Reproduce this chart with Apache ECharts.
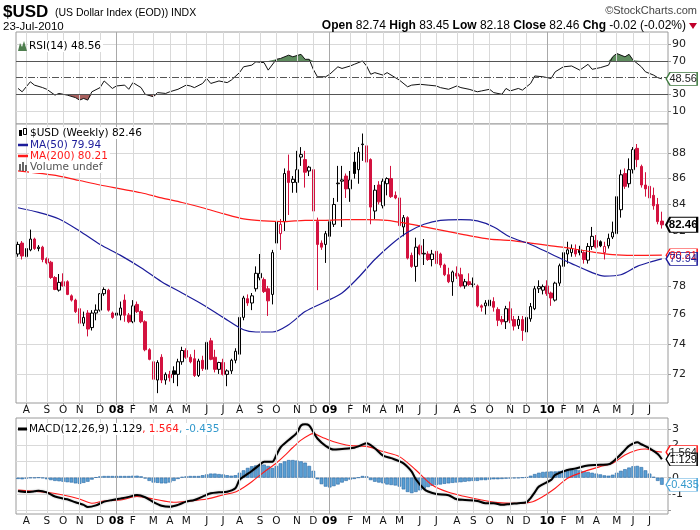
<!DOCTYPE html>
<html>
<head>
<meta charset="utf-8">
<title>$USD Weekly</title>
<script src="https://cdn.jsdelivr.net/npm/echarts@6/dist/echarts.min.js"></script>
<style>
html,body{margin:0;padding:0;background:#fff;}
#chart{width:700px;height:530px;}
</style>
</head>
<body>
<div id="chart"></div>
<script>
// ================= DATA =================
const firstWeekEnding = '2007-07-20';
// index of the first weekly bar of each month, and its axis label
const monthStartIdx = [2,7,11,15,20,24,28,33,37,41,46,50,54,59,63,68,72,76,81,85,89,93,98,102,107,111,115,120,124,129,133,137,141,146,150,154];
const monthLabels = ['A','S','O','N','D','08','F','M','A','M','J','J','A','S','O','N','D','09','F','M','A','M','J','J','A','S','O','N','D','10','F','M','A','M','J','J'];

const opens = [80.30,81.10,80.10,80.60,81.40,80.70,80.80,79.95,79.70,78.60,
77.70,78.30,78.30,77.30,77.00,76.40,75.40,76.10,75.10,76.10,
76.30,77.45,77.70,76.10,75.95,75.95,77.00,75.95,75.50,76.70,
76.20,75.50,73.60,72.80,71.60,73.10,71.60,71.97,72.20,71.97,
72.80,73.55,73.10,73.00,71.90,72.90,72.30,74.20,73.10,72.30,
72.75,71.97,72.20,72.90,73.30,75.80,77.10,76.80,77.80,78.57,
78.45,77.80,77.40,81.10,81.80,82.70,86.60,85.70,85.70,87.70,
87.50,86.60,86.70,82.70,81.10,81.00,81.60,82.50,85.60,85.80,
86.20,85.20,87.30,86.70,88.70,88.60,87.50,83.50,85.50,83.90,
85.60,86.00,84.70,84.50,82.30,83.00,80.20,79.40,80.90,80.30,
80.30,79.90,80.50,80.30,79.50,78.80,78.30,78.90,78.80,78.00,
78.30,78.10,78.00,76.60,76.60,76.60,76.90,76.35,75.65,75.50,
76.40,75.65,75.25,75.65,74.80,75.70,76.40,77.80,77.70,78.00,
77.50,77.00,78.20,79.40,80.30,80.40,80.60,80.60,80.40,79.85,
80.85,81.30,81.20,80.40,80.90,81.55,81.80,83.60,86.40,85.60,
86.70,88.40,86.96,85.50,85.40,84.70,84.00,82.74];
const highs = [81.20,81.25,80.90,82.10,81.50,80.95,80.90,80.05,79.80,78.70,
78.85,78.90,78.40,77.40,77.10,76.50,76.20,76.30,76.30,76.70,
77.50,77.90,77.80,76.20,76.20,76.90,77.40,76.10,77.00,76.90,
76.30,75.60,73.70,73.00,72.90,73.30,72.10,72.20,72.50,73.00,
73.80,73.70,73.30,73.60,73.00,73.20,74.30,74.40,73.60,72.80,
73.00,72.30,73.00,73.70,75.90,77.30,77.40,77.50,79.40,80.30,
78.60,78.00,80.60,83.20,82.90,86.80,87.90,86.20,88.20,88.50,
88.20,87.00,87.20,83.00,81.30,82.00,82.90,84.50,87.00,87.00,
86.40,86.60,88.10,88.50,89.60,89.40,87.60,85.50,85.80,86.00,
86.10,87.00,85.00,84.60,83.20,83.10,80.40,81.50,81.00,81.40,
80.50,80.60,80.70,80.40,79.60,79.30,79.10,79.40,79.30,78.50,
78.90,78.60,78.10,76.70,77.00,77.50,77.20,76.50,75.90,76.60,
76.90,75.90,75.90,75.90,76.00,76.80,78.00,78.40,78.10,78.40,
77.60,78.30,79.60,80.50,81.20,81.00,81.00,80.90,80.50,81.10,
82.30,81.70,81.30,81.20,81.80,82.70,84.90,86.70,86.80,87.60,
88.50,88.75,87.10,86.50,85.60,85.30,84.50,83.45];
const lows = [80.10,79.90,79.90,80.50,80.60,80.50,79.70,79.55,78.50,77.70,
77.60,77.95,77.35,76.90,76.10,74.90,75.20,74.50,74.90,75.60,
76.20,77.30,76.20,75.70,75.70,75.60,75.50,75.40,75.40,76.10,
75.40,73.50,72.90,71.50,70.75,71.40,71.30,71.50,71.40,71.20,
72.60,73.00,72.70,71.80,71.80,72.20,72.10,72.90,72.10,72.00,
71.90,71.20,72.00,72.70,73.20,75.60,76.60,76.30,77.60,78.40,
77.50,75.90,76.70,80.20,80.60,82.00,83.20,84.90,84.90,87.00,
85.30,86.20,83.40,77.70,80.60,79.65,80.80,82.30,84.20,82.30,
84.50,84.20,86.00,85.60,87.40,87.20,82.50,82.90,84.00,83.70,
84.70,84.50,84.40,82.30,81.60,79.90,79.30,78.30,80.20,79.50,
79.80,79.40,79.50,79.30,78.70,78.20,77.30,78.50,77.90,77.80,
78.00,77.90,76.50,76.20,76.00,76.30,76.20,75.20,75.30,75.00,
75.40,74.90,75.00,74.20,74.30,75.50,76.30,77.50,77.40,77.30,
76.60,76.90,78.00,79.20,79.60,80.10,80.10,80.20,79.60,79.60,
80.60,80.70,80.80,79.90,80.70,81.40,81.60,83.00,85.20,85.30,
86.40,86.90,85.30,84.60,84.30,83.60,82.50,82.18];
const closes = [81.00,80.15,80.70,81.40,80.70,80.80,79.90,79.65,78.60,77.75,
78.25,78.00,77.40,77.00,76.20,75.40,75.80,75.00,76.10,76.30,
77.45,77.75,76.30,75.80,76.10,76.45,75.95,75.50,76.60,76.20,
75.50,73.60,72.96,71.65,72.75,71.60,71.97,71.75,71.97,72.80,
73.55,73.10,72.80,71.90,72.85,72.35,74.10,72.96,72.30,72.75,
71.97,72.20,72.90,73.50,75.80,77.15,76.80,77.30,78.90,78.90,
77.60,76.95,80.40,82.70,82.50,86.40,85.70,85.95,86.70,87.90,
86.50,86.90,83.50,81.00,80.80,81.80,82.70,84.00,85.65,85.90,
85.20,85.90,86.40,88.10,88.75,87.30,83.80,85.10,84.20,85.80,
86.00,84.60,84.50,82.40,83.00,80.00,79.40,80.80,80.30,80.35,
79.90,80.30,79.60,79.50,78.80,78.30,79.00,78.70,78.00,78.30,
78.10,78.15,76.60,76.50,76.80,77.00,76.50,75.60,75.50,76.40,
75.60,75.20,75.65,74.90,75.80,76.55,77.80,77.95,77.95,77.45,
77.15,78.20,79.45,80.40,80.60,80.70,80.30,80.40,79.90,80.85,
81.60,80.80,80.90,80.85,81.45,81.90,84.60,86.30,85.40,86.70,
88.30,87.50,85.50,85.20,84.50,83.90,82.70,82.46];

// [week index, value] readings
const ma50 = [[0,83.75],[5,83.4],[10,82.9],[15,82.0],[20,81.0],[25,80.2],[30,79.3],[35,78.3],[40,77.5],[45,76.7],[50,75.8],[55,74.95],[58,74.8],[62,74.8],[66,75.3],[70,76.2],[75,76.9],[79,77.5],[83,78.6],[87,79.9],[91,81.0],[95,81.9],[99,82.5],[103,82.8],[108,82.85],[112,82.75],[116,82.3],[120,81.55],[125,81.0],[130,80.3],[135,79.6],[140,78.95],[143,78.7],[147,78.8],[151,79.4],[154,79.7],[157,79.94]];
const ma200 = [[0,86.6],[10,86.2],[15,85.85],[20,85.5],[25,85.2],[30,84.9],[35,84.5],[40,84.15],[45,83.75],[50,83.3],[55,82.9],[60,82.75],[65,82.7],[70,82.8],[75,82.8],[80,82.85],[85,82.85],[90,82.8],[95,82.55],[100,82.25],[105,81.95],[110,81.65],[115,81.4],[120,81.3],[125,81.1],[130,80.9],[135,80.7],[140,80.45],[145,80.25],[150,80.2],[157,80.21]];
const rsi14 = [[0,37],[1,33],[3,45],[4,41],[6,38],[7,36],[9,29],[10,31],[12,29],[14,26],[15,23],[16,25],[17,23],[18,33],[20,38],[21,46],[23,37],[24,40],[26,41],[27,36],[28,44],[30,38],[31,30],[33,27],[34,32],[36,31],[37,33],[39,36],[41,41],[42,40],[43,38],[45,43],[46,49],[47,43],[49,46],[51,44],[52,47],[54,56],[55,63],[57,65],[58,69],[60,68],[61,59],[63,72],[64,73],[66,77],[67,75],[69,78],[70,72],[71,72],[72,60],[73,51],[75,51],[76,54],[78,63],[79,61],[81,64],[82,66],[84,70],[85,64],[86,54],[87,56],[89,53],[90,56],[92,50],[93,47],[95,39],[96,41],[98,42],[100,41],[102,40],[103,38],[105,36],[107,40],[108,38],[110,36],[112,33],[113,34],[115,36],[116,32],[118,30],[119,37],[120,34],[122,37],[123,35],[125,43],[126,52],[128,51],[130,49],[131,57],[133,63],[135,64],[137,59],[139,66],[140,60],[142,62],[144,65],[145,75],[146,79],[148,75],[149,78],[150,71],[152,63],[153,57],[155,53],[156,50],[157,48.56]];
const macdLine = [[0,-0.82],[2,-0.88],[4,-0.84],[5,-0.8],[7,-0.9],[9,-1.16],[12,-1.33],[14,-1.51],[16,-1.67],[17,-1.8],[19,-1.7],[21,-1.47],[23,-1.37],[25,-1.28],[27,-1.18],[29,-1.06],[31,-1.2],[33,-1.5],[35,-1.72],[37,-1.78],[39,-1.67],[41,-1.47],[43,-1.37],[45,-1.16],[47,-0.96],[49,-0.9],[51,-0.86],[53,-0.65],[54,-0.14],[55,0.06],[57,0.41],[59,0.8],[60,0.98],[62,0.98],[63,1.39],[64,1.85],[66,2.31],[68,2.75],[69,3.2],[70,3.27],[71,3.2],[72,2.8],[73,2.4],[75,1.95],[77,1.72],[79,1.76],[81,1.8],[82,1.84],[83,1.92],[85,2.11],[87,1.8],[89,1.35],[91,1.2],[94,0.88],[96,0.37],[97,-0.1],[99,-0.7],[100,-0.85],[102,-1.0],[105,-1.08],[107,-1.33],[109,-1.37],[112,-1.43],[114,-1.57],[116,-1.57],[118,-1.67],[120,-1.61],[122,-1.57],[124,-1.51],[125,-1.25],[126,-0.9],[127,-0.55],[130,-0.14],[131,0.17],[134,0.47],[136,0.57],[139,0.74],[141,0.78],[144,0.82],[146,1.19],[148,1.7],[149,1.95],[151,2.17],[152,2.05],[154,1.8],[156,1.45],[157,1.129]];
const macdSignal = [[0,-0.76],[3,-0.82],[7,-0.9],[11,-1.06],[15,-1.31],[18,-1.57],[21,-1.43],[25,-1.37],[29,-1.16],[33,-1.31],[38,-1.51],[42,-1.43],[46,-1.31],[50,-1.06],[53,-0.88],[55,-0.6],[57,-0.25],[60,0.35],[63,0.9],[65,1.35],[67,1.85],[69,2.3],[71,2.62],[72,2.7],[74,2.5],[77,2.2],[80,2.0],[82,1.95],[85,1.92],[89,1.6],[93,1.29],[97,0.47],[101,-0.45],[105,-0.9],[109,-1.16],[113,-1.37],[117,-1.53],[121,-1.57],[125,-1.51],[128,-1.16],[131,-0.65],[134,-0.04],[138,0.37],[142,0.68],[145,0.88],[148,1.39],[151,1.7],[153,1.76],[155,1.64],[157,1.564]];
const macdHist = [-0.08,-0.10,-0.06,-0.02,-0.02,0.00,-0.03,-0.10,-0.15,-0.20,
-0.22,-0.25,-0.28,-0.30,-0.35,-0.38,-0.32,-0.25,-0.12,0.02,
0.08,0.10,0.10,0.10,0.10,0.10,0.10,0.10,0.12,0.12,
0.08,-0.05,-0.20,-0.30,-0.32,-0.35,-0.35,-0.30,-0.20,-0.08,
0.05,0.08,0.10,0.10,0.10,0.15,0.20,0.25,0.25,0.22,
0.20,0.15,0.12,0.15,0.30,0.45,0.60,0.70,0.75,0.80,
0.80,0.72,0.60,0.72,0.88,1.00,1.08,1.08,1.05,1.00,
0.92,0.72,0.42,-0.10,-0.40,-0.55,-0.60,-0.52,-0.42,-0.30,
-0.20,-0.12,-0.08,0.00,0.10,0.08,-0.15,-0.25,-0.30,-0.35,
-0.42,-0.45,-0.48,-0.55,-0.72,-0.88,-0.95,-0.88,-0.78,-0.68,
-0.58,-0.50,-0.45,-0.42,-0.38,-0.35,-0.32,-0.30,-0.28,-0.25,
-0.22,-0.20,-0.20,-0.15,-0.15,-0.12,-0.10,-0.10,-0.08,-0.06,
-0.05,-0.04,-0.03,0.00,0.03,0.12,0.22,0.30,0.35,0.37,
0.38,0.38,0.40,0.45,0.50,0.52,0.50,0.45,0.40,0.35,
0.30,0.25,0.20,0.14,0.12,0.18,0.30,0.42,0.52,0.62,
0.70,0.72,0.65,0.45,0.25,0.05,-0.20,-0.435];

const rsiTicks = [10, 30, 70, 90];
const rsiGuides = [30, 50, 70];
const priceTicks = [72, 74, 76, 78, 80, 82, 84, 86, 88];
const priceLabels = [72, 74, 76, 78, 82, 84, 86, 88];
const macdTicks = [-2, -1, 0, 1, 2, 3];
const macdLabels = [-1, 0, 2, 3];

// ================= BUILD =================
const FONT = "'DejaVu Sans', Verdana, sans-serif";
const ARIAL = "'Liberation Sans', Arial, sans-serif";
const RED = '#d3123f', BLACK = '#000000';
const GRIDC = '#d9d9d9', YEARC = '#a9a9a9', BORDER = '#9a9a9a';
const N = closes.length, LAST = N - 1;

// week-ending dates as categories (+1 empty slot at the right edge)
const cats = [];
{
  const t0 = Date.parse(firstWeekEnding + 'T00:00:00Z');
  for (let i = 0; i < N; i++) cats.push(new Date(t0 + i * 7 * 86400000).toISOString().slice(0, 10));
  cats.push(' ');
}
const monthSet = new Set(monthStartIdx);
const isYear = k => /\d/.test(monthLabels[k]);

const candleData = closes.map((c, i) => {
  const o = opens[i];
  const prev = i > 0 ? closes[i - 1] : o;
  const col = c < prev ? RED : BLACK;
  const fill = c > o ? '#ffffff' : col;
  return {
    value: [o, c, lows[i], highs[i]],
    itemStyle: { color: fill, color0: fill, borderColor: col, borderColor0: col, borderColorDoji: col }
  };
});

const L = 16, W = 652;
const grids = [
  { left: L, top: 32, width: W, height: 92 },
  { left: L, top: 124, width: W, height: 279 },
  { left: L, top: 418, width: W, height: 96 }
].map(g => Object.assign(g, { show: true, borderColor: BORDER, borderWidth: 1, backgroundColor: '#fff', containLabel: false, outerBoundsMode: 'none' }));

function makeX(gi, labels) {
  return {
    type: 'category', gridIndex: gi, data: cats, boundaryGap: true,
    axisLine: { show: false },
    axisTick: { show: labels, alignWithLabel: true, interval: i => monthSet.has(i), length: 2, lineStyle: { color: '#999' } },
    axisLabel: {
      show: labels, interval: i => monthSet.has(i), margin: 2,
      fontFamily: FONT, fontSize: 10.5, color: '#111',
      formatter: (v, i) => {
        const k = monthStartIdx.indexOf(i);
        if (k < 0) return '';
        return isYear(k) ? '{y|' + monthLabels[k] + '}' : monthLabels[k];
      },
      rich: { y: { fontFamily: FONT, fontWeight: 'bold', fontSize: 11, color: '#000' } }
    },
    splitLine: { show: false }
  };
}

const yLab = { fontFamily: FONT, fontSize: 11, color: '#222', margin: 4 };
function makeY(gi, type, min, max, ticks, labels) {
  const ax = {
    type, gridIndex: gi, position: 'right', min, max, scale: true,
    axisLine: { show: false },
    axisTick: { show: true, customValues: ticks, length: 3, lineStyle: { color: '#999' } },
    axisLabel: Object.assign({ customValues: labels }, yLab),
    splitLine: { show: true, lineStyle: { color: GRIDC, width: 1 } }
  };
  if (type === 'log') ax.logBase = 10;
  return ax;
}

function monthLines(gi, extra) {
  const data = monthStartIdx.map((m, k) => ({
    xAxis: cats[m],
    lineStyle: { color: isYear(k) ? YEARC : GRIDC, width: 1, type: 'solid' }
  })).concat(extra || []);
  return {
    type: 'line', xAxisIndex: gi, yAxisIndex: gi, data: [], z: 1, silent: true,
    markLine: { silent: true, animation: false, symbol: ['none', 'none'], label: { show: false }, data }
  };
}

function flag(x, y, text, border, textColor, bold) {
  const width = 31;
  return {
    silent: true, animation: false,
    symbol: 'path://M0,7 L5,0 L40,0 L40,14 L5,14 Z',
    symbolSize: [width, bold ? 15 : 13],
    symbolOffset: [4.3 + width / 2, 0],
    itemStyle: { color: '#ffffff', borderColor: border, borderWidth: bold ? 1.6 : 1 },
    label: {
      show: true, position: 'inside', offset: [1.5, 0.5], formatter: text,
      color: textColor, fontFamily: ARIAL, fontSize: bold ? 11.5 : 11, fontWeight: bold ? 'bold' : 'normal'
    },
    data: [{ coord: [x, y] }]
  };
}

const lastOf = arr => arr[arr.length - 1];
const rsiOver = rsi14.map(p => [p[0], Math.max(p[1], 70)]);
const rsiUnder = rsi14.map(p => [p[0], Math.min(p[1], 30)]);

const series = [
  // ---- RSI panel ----
  monthLines(0, [
    { yAxis: rsiGuides[0], lineStyle: { color: '#555', width: 1, type: 'solid' } },
    { yAxis: rsiGuides[1], lineStyle: { color: '#555', width: 1, type: [7, 2, 1, 2] } },
    { yAxis: rsiGuides[2], lineStyle: { color: '#555', width: 1, type: 'solid' } }
  ]),
  { type: 'line', xAxisIndex: 0, yAxisIndex: 0, data: rsiOver, symbol: 'none', silent: true, z: 2,
    lineStyle: { width: 0, opacity: 0 }, areaStyle: { origin: 70, color: '#5e8c5e', opacity: 1 } },
  { type: 'line', xAxisIndex: 0, yAxisIndex: 0, data: rsiUnder, symbol: 'none', silent: true, z: 2,
    lineStyle: { width: 0, opacity: 0 }, areaStyle: { origin: 30, color: '#a8605e', opacity: 1 } },
  { type: 'line', xAxisIndex: 0, yAxisIndex: 0, data: rsi14, symbol: 'none', z: 3,
    lineStyle: { color: '#111', width: 1 },
    markPoint: flag(lastOf(rsi14)[0], lastOf(rsi14)[1], lastOf(rsi14)[1].toFixed(2), '#3f7a3f', '#222', false) },

  // ---- price panel ----
  monthLines(1),
  { type: 'candlestick', xAxisIndex: 1, yAxisIndex: 1, data: candleData, barWidth: 3, z: 2,
    itemStyle: { borderWidth: 1 },
    markPoint: flag(LAST, closes[LAST], closes[LAST].toFixed(2), '#000', '#000', true) },
  { type: 'line', xAxisIndex: 1, yAxisIndex: 1, data: ma200, symbol: 'none', smooth: 0.3, z: 3,
    lineStyle: { color: '#ff1a1a', width: 1.2 },
    markPoint: flag(lastOf(ma200)[0], lastOf(ma200)[1], lastOf(ma200)[1].toFixed(2), '#ff1a1a', '#ff1a1a', false) },
  { type: 'line', xAxisIndex: 1, yAxisIndex: 1, data: ma50, symbol: 'none', smooth: 0.3, z: 4,
    lineStyle: { color: '#1c1c9a', width: 1.2 },
    markPoint: flag(lastOf(ma50)[0], lastOf(ma50)[1], lastOf(ma50)[1].toFixed(2), '#1c1c9a', '#1c1c9a', false) },

  // ---- MACD panel ----
  monthLines(2),
  { type: 'bar', xAxisIndex: 2, yAxisIndex: 2, data: macdHist, barCategoryGap: '12%', z: 2,
    itemStyle: { color: '#5a9fd3', borderColor: '#2a68a4', borderWidth: 0.6 },
    markPoint: flag(LAST, macdHist[LAST], macdHist[LAST].toFixed(3), '#55aadd', '#3399cc', false) },
  { type: 'line', xAxisIndex: 2, yAxisIndex: 2, data: macdSignal, symbol: 'none', smooth: 0.3, z: 3,
    lineStyle: { color: '#ff1a1a', width: 1.1 },
    markPoint: flag(lastOf(macdSignal)[0], lastOf(macdSignal)[1], lastOf(macdSignal)[1].toFixed(3), '#ff1a1a', '#222', false) },
  { type: 'line', xAxisIndex: 2, yAxisIndex: 2, data: macdLine, symbol: 'none', smooth: 0.3, z: 4,
    lineStyle: { color: '#000', width: 2, shadowColor: 'rgba(0,0,0,0.3)', shadowBlur: 2 },
    markPoint: flag(lastOf(macdLine)[0], lastOf(macdLine)[1], lastOf(macdLine)[1].toFixed(3), '#000', '#000', false) }
];

function txt(x, y, text, style) {
  return { type: 'text', x, y, z: 100, silent: true,
    style: Object.assign({ text, fill: '#000', verticalAlign: 'middle', textVerticalAlign: 'middle' }, style) };
}
const legendBox = { fontFamily: FONT, fontSize: 10.5, backgroundColor: '#ffffff', padding: [1, 2, 0, 1] };

const graphic = [
  txt(3, 12, '$USD', { fontFamily: ARIAL, fontSize: 17, fontWeight: 'bold' }),
  txt(55, 13, '(US Dollar Index (EOD)) INDX', { fontFamily: ARIAL, fontSize: 10.5 }),
  txt(697, 11, '\u00A9StockCharts.com', { fontFamily: ARIAL, fontSize: 11, fill: '#444', align: 'right', textAlign: 'right' }),
  txt(3, 27, '23-Jul-2010', { fontFamily: ARIAL, fontSize: 11.5 }),
  txt(686, 26, '{b|Open} 82.74 {b|High} 83.45 {b|Low} 82.18 {b|Close} 82.46 {b|Chg} -0.02 (-0.02%)',
    { fontFamily: ARIAL, fontSize: 12, align: 'right', textAlign: 'right',
      rich: { b: { fontFamily: ARIAL, fontSize: 12, fontWeight: 'bold' } } }),
  { type: 'polygon', z: 100, silent: true, shape: { points: [[689, 23], [697, 23], [693, 29]] }, style: { fill: '#c0002a' } },

  // RSI legend
  { type: 'polygon', z: 100, silent: true, shape: { points: [[18, 51], [20, 43], [22, 47], [24, 41], [27, 51]] }, style: { fill: '#4e7e4e' } },
  txt(28, 46, 'RSI(14) 48.56', Object.assign({}, legendBox)),

  // price legend
  { type: 'rect', z: 100, silent: true, shape: { x: 19, y: 130, width: 3, height: 6 }, style: { fill: '#000' } },
  { type: 'rect', z: 100, silent: true, shape: { x: 23.5, y: 128.5, width: 3, height: 6 }, style: { fill: '#fff', stroke: '#000', lineWidth: 1 } },
  txt(29, 133, '$USD (Weekly) 82.46', Object.assign({}, legendBox)),
  { type: 'line', z: 100, silent: true, shape: { x1: 18, y1: 145, x2: 28, y2: 145 }, style: { stroke: '#1c1c9a', lineWidth: 2.5 } },
  txt(29, 145, 'MA(50) 79.94', Object.assign({}, legendBox, { fill: '#1c1c9a' })),
  { type: 'line', z: 100, silent: true, shape: { x1: 18, y1: 156, x2: 28, y2: 156 }, style: { stroke: '#ff1a1a', lineWidth: 2.5 } },
  txt(29, 156, 'MA(200) 80.21', Object.assign({}, legendBox, { fill: '#ff1a1a' })),
  { type: 'rect', z: 100, silent: true, shape: { x: 19, y: 164, width: 2, height: 7 }, style: { fill: '#666' } },
  { type: 'rect', z: 100, silent: true, shape: { x: 22, y: 162, width: 2, height: 9 }, style: { fill: '#666' } },
  { type: 'rect', z: 100, silent: true, shape: { x: 25, y: 165, width: 2, height: 6 }, style: { fill: '#666' } },
  txt(29, 167, 'Volume undef', Object.assign({}, legendBox, { fill: '#555' })),

  // MACD legend
  { type: 'line', z: 100, silent: true, shape: { x1: 18, y1: 429, x2: 27, y2: 429 }, style: { stroke: '#000', lineWidth: 3 } },
  txt(28, 429, 'MACD(12,26,9) 1.129{r|, 1.564}{c|, -0.435}', Object.assign({}, legendBox, {
    rich: { r: { fontFamily: FONT, fontSize: 10.5, fill: '#ff1a1a', color: '#ff1a1a' }, c: { fontFamily: FONT, fontSize: 10.5, fill: '#3399cc', color: '#3399cc' } } }))
];

const option = {
  animation: false,
  backgroundColor: '#ffffff',
  textStyle: { fontFamily: FONT },
  grid: grids,
  xAxis: [makeX(0, false), makeX(1, true), makeX(2, true)],
  yAxis: [
    makeY(0, 'value', -5.7, 104.8, rsiTicks, rsiTicks),
    makeY(1, 'log', 70.12, 90.38, priceTicks, priceLabels),
    makeY(2, 'value', -2.23, 3.66, macdTicks, macdLabels)
  ],
  series,
  graphic
};

const chart = echarts.init(document.getElementById('chart'), null, { renderer: 'canvas' });
chart.setOption(option);
</script>
</body>
</html>
